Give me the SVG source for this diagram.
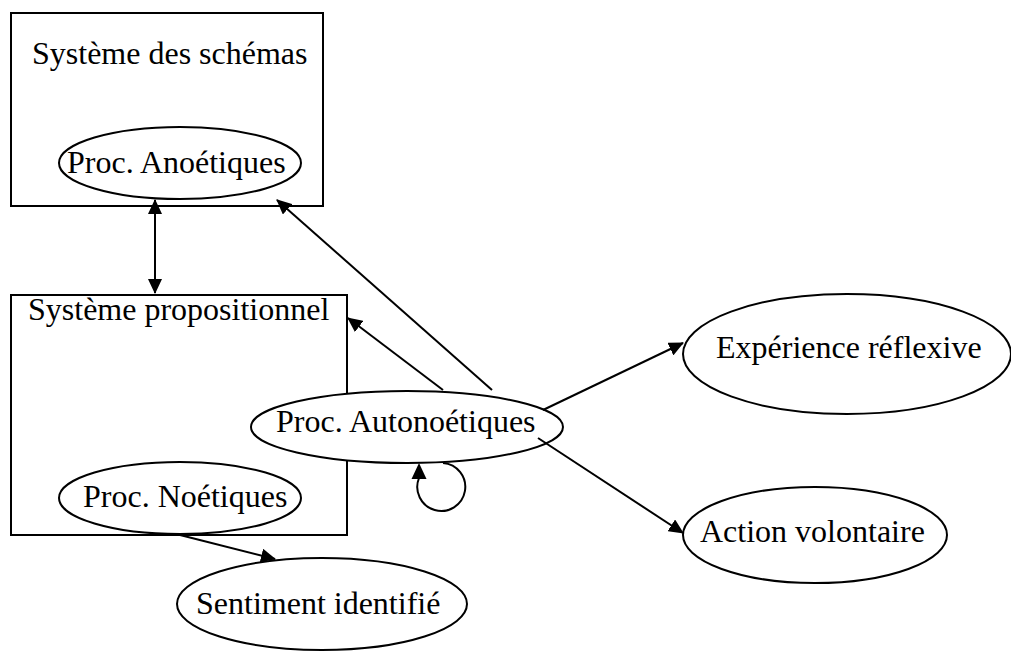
<svg xmlns="http://www.w3.org/2000/svg" width="1011" height="651" viewBox="0 0 1011 651">
<style>
  .shape { fill: #fff; stroke: #000; stroke-width: 2; }
  .lbl { font-family: "Liberation Serif", "Times New Roman", serif; font-size: 32px; fill: #000; }
  .edge { fill: none; stroke: #000; stroke-width: 2; }
</style>
<defs>
  <marker id="arr" viewBox="0 0 15 14" refX="14" refY="7" markerWidth="15" markerHeight="14" markerUnits="userSpaceOnUse" orient="auto-start-reverse">
    <path d="M0,0 L15,7 L0,14 z" fill="#000"/>
  </marker>
</defs>
<rect width="1011" height="651" fill="#fff"/>
<g id="systeme-schemas">
  <rect class="shape" x="11" y="13" width="312" height="193"/>
  <text class="lbl" x="32" y="64">Système des schémas</text>
</g>
<g id="proc-anoetiques">
  <ellipse class="shape" cx="180" cy="163" rx="121" ry="36"/>
  <text class="lbl" x="67" y="173">Proc. Anoétiques</text>
</g>
<g id="systeme-propositionnel">
  <rect class="shape" x="11" y="295" width="336" height="240"/>
  <text class="lbl" x="28" y="320">Système propositionnel</text>
</g>
<g id="proc-noetiques">
  <ellipse class="shape" cx="180" cy="498" rx="121" ry="36"/>
  <text class="lbl" x="83" y="507">Proc. Noétiques</text>
</g>
<g id="proc-autonoetiques">
  <ellipse class="shape" cx="407" cy="427" rx="156" ry="36"/>
  <text class="lbl" x="276" y="432">Proc. Autonoétiques</text>
</g>
<g id="experience-reflexive">
  <ellipse class="shape" cx="847" cy="354" rx="164" ry="60"/>
  <text class="lbl" x="716" y="358">Expérience réflexive</text>
</g>
<g id="action-volontaire">
  <ellipse class="shape" cx="815" cy="535" rx="132" ry="48"/>
  <text class="lbl" x="700" y="542">Action volontaire</text>
</g>
<g id="sentiment-identifie">
  <ellipse class="shape" cx="322" cy="604" rx="145" ry="46"/>
  <text class="lbl" x="196" y="614">Sentiment identifié</text>
</g>
<g id="connectors">
  <line class="edge" x1="155" y1="200" x2="155" y2="293" marker-start="url(#arr)" marker-end="url(#arr)"/>
  <line class="edge" x1="492" y1="390" x2="277" y2="200" marker-end="url(#arr)"/>
  <line class="edge" x1="443" y1="390" x2="348" y2="318" marker-end="url(#arr)"/>
  <line class="edge" x1="543" y1="410" x2="683" y2="343" marker-end="url(#arr)"/>
  <line class="edge" x1="538" y1="438" x2="683" y2="533" marker-end="url(#arr)"/>
  <line class="edge" x1="180" y1="535" x2="275" y2="559" marker-end="url(#arr)"/>
  <path class="edge" d="M 419 478 A 24 24 0 1 0 443 463"/>
  <path d="M419,463 L426.5,479 L411.5,479 z" fill="#000"/>
</g>
</svg>
